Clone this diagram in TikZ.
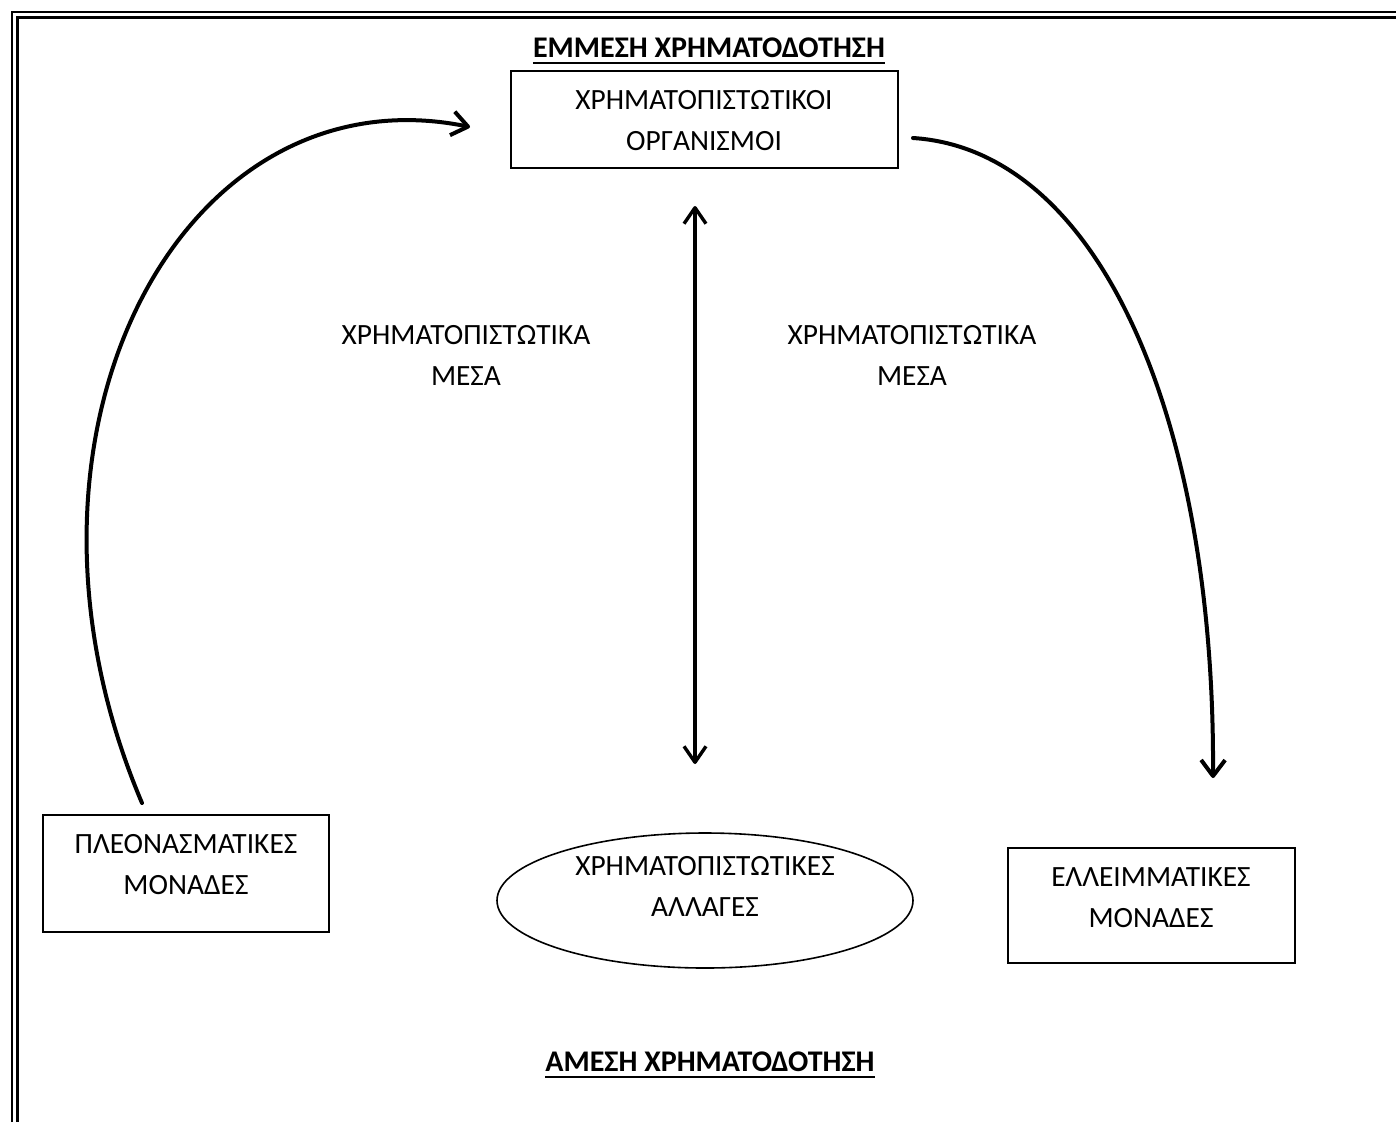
\documentclass[tikz,border=0pt]{standalone}
\usepackage{fontspec}
\setmainfont{Carlito}
\usetikzlibrary{arrows.meta,shapes.geometric}
\begin{document}
\begin{tikzpicture}[x=1pt,y=-1pt,
  txt/.style={font=\fontsize{29.4}{41}\selectfont, align=center, inner sep=0pt},
  ttl/.style={font=\fontsize{30}{41}\selectfont\bfseries, inner sep=0pt},
  boxshape/.style={draw, line width=1.6pt, inner sep=0pt},
  ul/.style={line width=2pt},
  arr/.style={line width=4pt, line cap=round, -{Straight Barb[length=16pt,width=24pt,line join=round]}},
  darr/.style={line width=3.4pt, {Straight Barb[length=16pt,width=22pt,line join=round]}-{Straight Barb[length=16pt,width=22pt,line join=round]}}
]
\useasboundingbox (0,0) rectangle (1396,1122);
\fill[white] (0,0) rectangle (1396,1122);
% page border (double)
\draw[line width=2.5pt] (12,1122) -- (12,12) -- (1396,12);
\draw[line width=2.5pt] (17.3,1122) -- (17.3,17.3) -- (1396,17.3);

% titles
\node[ttl] (t1) at (709,48) {ΕΜΜΕΣΗ ΧΡΗΜΑΤΟΔΟΤΗΣΗ};
\draw[ul] ([yshift=-5pt]t1.base west) -- ([yshift=-5pt]t1.base east);
\node[ttl] (t2) at (710,1062) {ΑΜΕΣΗ ΧΡΗΜΑΤΟΔΟΤΗΣΗ};
\draw[ul] ([yshift=-5pt]t2.base west) -- ([yshift=-5pt]t2.base east);

% shapes
\node[boxshape, minimum width=387pt, minimum height=97pt] (org) at (704.5,119.5) {};
\node[boxshape, minimum width=286pt, minimum height=117pt] (pl) at (186,873.5) {};
\node[boxshape, minimum width=287pt, minimum height=115pt] (el) at (1151.5,905.5) {};
\node[draw, line width=1.6pt, ellipse, inner sep=0pt, minimum width=416pt, minimum height=135pt] (al) at (705,900.5) {};

% texts
\node[txt] (orgt) at (704,120.5) {ΧΡΗΜΑΤΟΠΙΣΤΩΤΙΚΟΙ\\ΟΡΓΑΝΙΣΜΟΙ};
\node[txt] (plt) at (186,864.5) {ΠΛΕΟΝΑΣΜΑΤΙΚΕΣ\\ΜΟΝΑΔΕΣ};
\node[txt] (elt) at (1151,898) {ΕΛΛΕΙΜΜΑΤΙΚΕΣ\\ΜΟΝΑΔΕΣ};
\node[txt] (alt) at (705,886) {ΧΡΗΜΑΤΟΠΙΣΤΩΤΙΚΕΣ\\ΑΛΛΑΓΕΣ};
\node[txt] (m1) at (466,355) {ΧΡΗΜΑΤΟΠΙΣΤΩΤΙΚΑ\\ΜΕΣΑ};
\node[txt] (m2) at (912,355) {ΧΡΗΜΑΤΟΠΙΣΤΩΤΙΚΑ\\ΜΕΣΑ};

% connector end points
\coordinate (ls) at (142,803);
\coordinate (le) at (470,127);
\coordinate (rs) at (913,138);
\coordinate (re) at (1213,778);
\coordinate (vs) at (695,206);
\coordinate (ve) at (695,764);

\draw[arr] (ls) .. controls (-14,436) and (180,68) .. (le);
\draw[arr] (rs) .. controls (1100,150) and (1215,420) .. (re);
\draw[darr] (vs) -- (ve);
\end{tikzpicture}
\end{document}
